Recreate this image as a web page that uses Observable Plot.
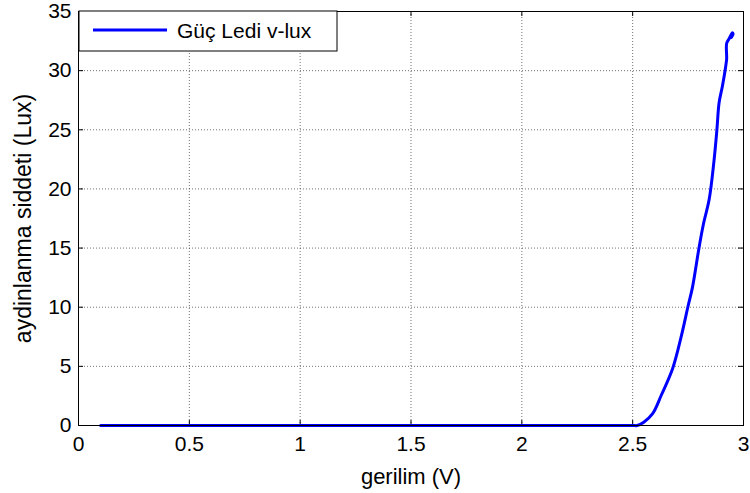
<!DOCTYPE html>
<html><head><meta charset="utf-8">
<script src="https://cdn.jsdelivr.net/npm/d3@7"></script>
<script src="https://cdn.jsdelivr.net/npm/@observablehq/plot@0.6"></script>
<style>body{margin:0;background:#fff;} #chart{position:relative;width:750px;height:493px;}</style>
</head><body><div id="chart"></div>
<script>
const voltage = [0.1, 0.5, 1.0, 1.5, 2.0, 2.5, 2.52, 2.55, 2.59, 2.63, 2.68, 2.72, 2.75, 2.77, 2.80, 2.82, 2.845, 2.867, 2.88, 2.89, 2.905, 2.92, 2.924, 2.924, 2.935, 2.95, 2.953, 2.945];
const lux     = [0,   0,   0,   0,   0,   0,   0,    0.28, 1.0,  2.6,  4.8,  7.6,  10.1, 11.7, 15.1, 17.1, 19.1,  22.4,  25.0,  27.3, 28.7,  30.4, 31.0,  32.3,  32.7,  33.2, 33.1,  32.8];
const xTicks = [0, 0.5, 1, 1.5, 2, 2.5, 3];
const yTicks = [0, 5, 10, 15, 20, 25, 30, 35];
const seriesName = "Güç Ledi v-lux";
const xLabel = "gerilim (V)";
const yLabel = "aydinlanma siddeti (Lux)";

const data = voltage.map((v, i) => ({v, l: lux[i]}));
const W = 750, H = 493, mt = 11, mb = 68, ml = 78, mr = 7;
const innerH = H - mt - mb, innerW = W - ml - mr;
const font = "'Liberation Sans', Arial, sans-serif";

const plot = Plot.plot({
  width: W, height: H, marginTop: mt, marginBottom: mb, marginLeft: ml, marginRight: mr,
  style: {fontFamily: font, fontSize: "21px", color: "#000", background: "#fff", overflow: "visible"},
  x: {domain: [0, 3]},
  y: {domain: [0, 35]},
  marks: [
    Plot.gridX(xTicks, {stroke: "#000", strokeOpacity: 0.55, strokeDasharray: "1,2"}),
    Plot.gridY(yTicks, {stroke: "#000", strokeOpacity: 0.55, strokeDasharray: "1,2"}),
    Plot.tickX(xTicks, {x: d => d, insetTop: innerH - 5, stroke: "#000"}),
    Plot.tickX(xTicks, {x: d => d, insetBottom: innerH - 5, stroke: "#000"}),
    Plot.tickY(yTicks, {y: d => d, insetRight: innerW - 5, stroke: "#000"}),
    Plot.tickY(yTicks, {y: d => d, insetLeft: innerW - 5, stroke: "#000"}),
    Plot.axisX(xTicks, {tickSize: 0, tickPadding: 11, fontSize: 21, tickFormat: d => String(d), label: null}),
    Plot.axisX({tickSize: 0, ticks: [], fontSize: 22, label: xLabel, labelAnchor: "center", labelArrow: "none", labelOffset: 58}),
    Plot.axisY(yTicks, {tickSize: 0, tickPadding: 7, fontSize: 21, label: null}),
    Plot.axisY({tickSize: 0, ticks: [], fontSize: 23, label: yLabel, labelAnchor: "center", labelArrow: "none", labelOffset: 64}),
    Plot.line(data, {x: "v", y: "l", stroke: "#0000ff", strokeWidth: 3, curve: "catmull-rom"}),
    Plot.frame({stroke: "#000"})
  ]
});
document.getElementById("chart").appendChild(plot);

// legend inside the axes, top-left
const svg = d3.select(plot);
const g = svg.append("g");
g.append("rect").attr("x", ml + 1).attr("y", mt).attr("width", 258).attr("height", 40)
  .attr("fill", "#fff").attr("stroke", "#000");
g.append("line").attr("x1", 93).attr("x2", 167).attr("y1", 30).attr("y2", 30)
  .attr("stroke", "#0000ff").attr("stroke-width", 3);
g.append("text").attr("x", 177).attr("y", 38).attr("font-family", font).attr("font-size", 21)
  .attr("text-anchor", "start").attr("fill", "#000").text(seriesName);
</script>
</body></html>
